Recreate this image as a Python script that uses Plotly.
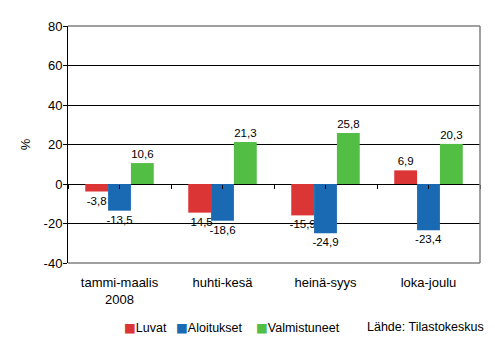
import plotly.graph_objects as go

categories = ["tammi-maalis<br>2008", "huhti-kesä", "heinä-syys", "loka-joulu"]
luvat = [-3.8, -14.5, -15.9, 6.9]
aloitukset = [-13.5, -18.6, -24.9, -23.4]
valmistuneet = [10.6, 21.3, 25.8, 20.3]
series_names = ["Luvat", "Aloitukset", "Valmistuneet"]
colors = ["#DC3535", "#1A69B3", "#52BE43"]
y_ticks = [-40, -20, 0, 20, 40, 60, 80]
y_ticktext = ["-40", "-20", "0", "20", "40", "60", "80"]

FONT = "Liberation Sans, Arial, sans-serif"
W, H = 495, 344
ML, MR, MT, MB = 68, 15, 26, 81
PW = W - ML - MR
PH = H - MT - MB


def fmt(v):
    return f"{v:.1f}".replace(".", ",")


fig = go.Figure()
for name, vals, col in zip(series_names, [luvat, aloitukset, valmistuneet], colors):
    fig.add_trace(go.Bar(
        x=categories, y=vals, name=name, marker=dict(color=col, line=dict(width=0)),
        text=[fmt(v) for v in vals], textposition="outside",
        textfont=dict(family=FONT, size=11.5, color="black"),
        constraintext="none", cliponaxis=False, showlegend=False,
    ))

# invisible trace to carry the zero-line tick axis
fig.add_trace(go.Scatter(x=[None], y=[None], xaxis="x2", yaxis="y",
                         showlegend=False, hoverinfo="skip"))

ymin, ymax = -40, 80

# legend drawn as text entries with coloured squares
legend_left_px = [122, 174, 254]
legend_y = -(327 - (MT + PH)) / PH
annotations = []
for name, col, px in zip(series_names, colors, legend_left_px):
    annotations.append(dict(
        text=f"<span style='color:{col};font-family:DejaVu Sans'>■</span>{name}",
        xref="paper", yref="paper", x=(px - ML) / PW, y=legend_y,
        xanchor="left", yanchor="middle", showarrow=False,
        font=dict(family=FONT, size=12.5, color="black"),
    ))
annotations.append(dict(
    text="Lähde: Tilastokeskus", xref="paper", yref="paper",
    x=(486 - ML) / PW, y=legend_y, xanchor="right", yanchor="middle",
    showarrow=False, font=dict(family=FONT, size=12.5, color="black"),
))

fig.update_layout(
    width=W, height=H,
    margin=dict(l=ML, r=MR, t=MT, b=MB, autoexpand=False),
    paper_bgcolor="white", plot_bgcolor="white",
    barmode="group", bargap=0.335, bargroupgap=0,
    font=dict(family=FONT, size=12, color="black"),
    showlegend=False,
    xaxis=dict(
        type="category", categoryarray=categories, range=[-0.5, 3.5],
        showgrid=False, zeroline=False, showline=False, ticks="",
        tickfont=dict(family=FONT, size=13, color="black"),
        ticklabelstandoff=10,
    ),
    xaxis2=dict(
        overlaying="x", anchor="free", position=(0 - ymin) / (ymax - ymin),
        range=[-0.5, 3.5], tick0=-0.5, dtick=0.5, ticks="outside", ticklen=4,
        tickcolor="black", tickwidth=1, showticklabels=False, showgrid=False,
        zeroline=False, showline=False, layer="above traces",
    ),
    yaxis=dict(
        range=[ymin, ymax], tickvals=y_ticks, ticktext=y_ticktext,
        showgrid=True, gridcolor="black", gridwidth=1,
        zeroline=True, zerolinecolor="black", zerolinewidth=1,
        showline=True, linecolor="black", linewidth=1,
        ticks="outside", ticklen=4, tickcolor="black",
        tickfont=dict(family=FONT, size=13, color="black"),
        ticklabelstandoff=-2,
        title=dict(text="%", font=dict(family=FONT, size=13, color="black"), standoff=10),
    ),
    annotations=annotations,
    shapes=[
        dict(type="line", xref="paper", yref="paper", x0=0, x1=1, y0=1, y1=1,
             line=dict(color="#808080", width=1.5), layer="above"),
        dict(type="line", xref="paper", yref="paper", x0=1, x1=1, y0=0, y1=1,
             line=dict(color="#808080", width=1.5), layer="above"),
        dict(type="line", xref="paper", yref="paper", x0=0, x1=1, y0=0, y1=0,
             line=dict(color="#808080", width=1.5), layer="above"),
    ],
)

fig.write_html("out.html")
